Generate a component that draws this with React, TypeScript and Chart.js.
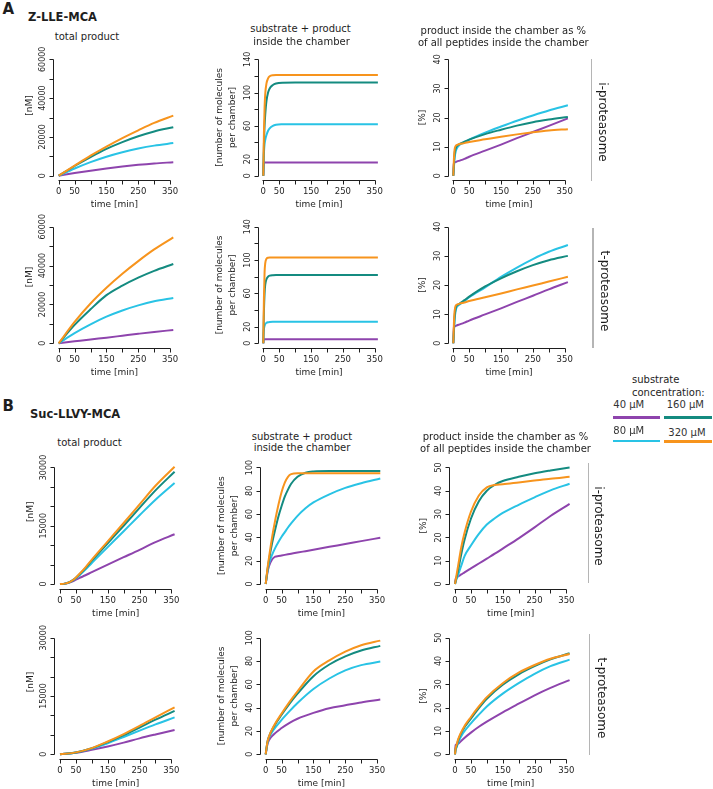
import React, { useEffect, useRef } from "react";
import { Chart, registerables } from "chart.js";

Chart.register(...registerables);

// ---------- series meta ----------
const SERIES_LABELS = ["40 μM", "80 μM", "160 μM", "320 μM"];
const SERIES_COLORS = ["#8e44ad", "#29c3e5", "#148b80", "#f7941d"];

// ---------- axis ticks ----------
const X_TICKS = [0, 50, 100, 150, 200, 250, 300, 350];
const X_TICK_LABELS = [0, 50, 150, 250, 350];

const Y_TICKS_TOTAL_A = [0, 10000, 20000, 30000, 40000, 50000, 60000];
const Y_LABELS_TOTAL_A = [0, 20000, 40000, 60000];
const Y_TICKS_CHAMBER_A = [0, 20, 40, 60, 80, 100, 120, 140];
const Y_LABELS_CHAMBER_A = [0, 20, 60, 100, 140];
const Y_TICKS_PCT_A = [0, 10, 20, 30, 40];
const Y_TICKS_TOTAL_B = [0, 5000, 10000, 15000, 20000, 25000, 30000];
const Y_LABELS_TOTAL_B = [0, 15000, 30000];
const Y_TICKS_CHAMBER_B = [0, 20, 40, 60, 80, 100];
const Y_TICKS_PCT_B = [0, 10, 20, 30, 40, 50];

// ---------- A: Z-LLE-MCA, i-proteasome ----------
const A_I_TOTAL_T = [0, 50, 100, 150, 200, 250, 300, 360];
const A_I_TOTAL_40 = [0, 1350, 2600, 3750, 4750, 5600, 6300, 6950];
const A_I_TOTAL_80 = [0, 3700, 7000, 9800, 12100, 14000, 15500, 16800];
const A_I_TOTAL_160 = [0, 5000, 9600, 13800, 17300, 20300, 22800, 25000];
const A_I_TOTAL_320 = [0, 5200, 10300, 15000, 19400, 23400, 27200, 31000];

const A_I_CHAMBER_T = [0, 1, 2, 4, 6, 10, 15, 20, 30, 40, 60, 100, 200, 360];
const A_I_CHAMBER_40 = [0, 12, 15.5, 16, 16, 16, 16, 16, 16, 16, 16, 16, 16, 16];
const A_I_CHAMBER_80 = [0, 18, 28, 38, 43, 49, 54, 57, 60, 61.2, 61.8, 62, 62, 62];
const A_I_CHAMBER_160 = [0, 20, 38, 60, 73, 90, 100, 105, 109, 110.8, 111.8, 112, 112, 112];
const A_I_CHAMBER_320 = [0, 28, 52, 82, 98, 111, 117, 119.5, 120.8, 121, 121, 121, 121, 121];

const A_I_PCT_T = [0, 2, 4, 8, 12, 20, 35, 50, 100, 150, 200, 250, 300, 360];
const A_I_PCT_40 = [0, 4.5, 4.6, 4.7, 4.9, 5.2, 5.8, 6.5, 8.6, 10.7, 12.9, 15.0, 17.1, 19.7];
const A_I_PCT_80 = [0, 3, 6, 8.5, 9.6, 10.6, 11.5, 12.4, 14.8, 16.9, 18.9, 20.7, 22.4, 24.2];
const A_I_PCT_160 = [0, 4, 7.5, 9.5, 10.3, 10.9, 11.7, 12.4, 14.3, 15.8, 17.2, 18.4, 19.3, 20.2];
const A_I_PCT_320 = [0, 6, 9, 10.3, 10.6, 10.9, 11.2, 11.6, 12.5, 13.4, 14.2, 14.9, 15.5, 16.0];

// ---------- A: Z-LLE-MCA, t-proteasome ----------
const A_T_TOTAL_T = [0, 50, 100, 150, 200, 250, 300, 360];
const A_T_TOTAL_40 = [0, 1000, 2000, 2900, 3900, 4900, 5850, 6850];
const A_T_TOTAL_80 = [0, 5200, 9700, 13700, 16900, 19500, 21600, 23300];
const A_T_TOTAL_160 = [0, 9500, 17500, 24800, 29700, 33800, 37300, 40800];
const A_T_TOTAL_320 = [0, 11000, 20500, 28600, 35800, 42300, 48300, 54500];

const A_T_CHAMBER_T = [0, 1, 2, 4, 6, 10, 15, 20, 30, 40, 60, 100, 200, 360];
const A_T_CHAMBER_40 = [0, 4, 5, 5, 5, 5, 5, 5, 5, 5, 5, 5, 5, 5];
const A_T_CHAMBER_80 = [0, 12, 17, 21, 23, 24.5, 25.3, 25.7, 26, 26, 26, 26, 26, 26];
const A_T_CHAMBER_160 = [0, 20, 38, 60, 70, 77, 80, 81.2, 81.8, 82, 82, 82, 82, 82];
const A_T_CHAMBER_320 = [0, 30, 55, 85, 96, 101.5, 102.8, 103, 103, 103, 103, 103, 103, 103];

const A_T_PCT_T = [0, 2, 4, 8, 12, 20, 35, 50, 100, 150, 200, 250, 300, 360];
const A_T_PCT_40 = [0, 5.6, 5.8, 6.0, 6.2, 6.5, 7.1, 7.8, 9.9, 12.0, 14.2, 16.3, 18.5, 21.0];
const A_T_PCT_80 = [0, 4, 8, 11.5, 12.6, 13.3, 14.5, 15.8, 19.2, 22.8, 26.0, 28.9, 31.4, 33.7];
const A_T_PCT_160 = [0, 4.5, 9, 12.3, 13, 13.6, 14.8, 16.0, 19.5, 22.3, 24.7, 26.8, 28.5, 30.0];
const A_T_PCT_320 = [0, 7, 11, 13, 13.3, 13.6, 14, 14.5, 15.8, 17.1, 18.5, 19.8, 21.2, 22.8];

// ---------- B: Suc-LLVY-MCA, i-proteasome ----------
const B_I_TOTAL_T = [0, 15, 30, 45, 60, 80, 100, 150, 200, 250, 300, 360];
const B_I_TOTAL_40 = [0, 85, 400, 900, 1500, 2250, 3050, 5000, 6900, 8800, 10800, 12800];
const B_I_TOTAL_80 = [0, 90, 450, 1150, 2150, 3700, 5400, 9500, 13600, 17700, 21700, 26000];
const B_I_TOTAL_160 = [0, 95, 480, 1250, 2400, 4100, 6000, 10500, 15000, 19600, 24100, 28900];
const B_I_TOTAL_320 = [0, 100, 500, 1300, 2500, 4300, 6300, 11000, 15700, 20500, 25300, 30200];

const B_I_CHAMBER_T = [0, 5, 10, 20, 30, 40, 50, 60, 70, 80, 100, 125, 150, 200, 250, 300, 360];
const B_I_CHAMBER_40 = [0, 9, 15, 21, 23.5, 24, 24.5, 25, 25.5, 26, 27, 28.2, 29.4, 31.9, 34.3, 36.8, 39.7];
const B_I_CHAMBER_80 = [0, 10, 17, 25, 31, 36, 40.5, 44.5, 48.5, 52, 58.5, 65, 70, 77, 82.5, 86.5, 90.5];
const B_I_CHAMBER_160 = [0, 11, 20, 35, 47, 58, 67, 75, 81, 86, 92, 95.5, 96.6, 97, 97, 97, 97];
const B_I_CHAMBER_320 = [0, 12, 22, 40, 55, 68, 79, 87, 92, 94.3, 95, 95, 95, 95, 95, 95, 95];

const B_I_PCT_T = [0, 2, 5, 10, 20, 30, 50, 75, 100, 125, 150, 200, 250, 300, 360];
const B_I_PCT_40 = [0, 2.2, 2.8, 3.3, 4.1, 5.0, 6.7, 8.8, 10.9, 13.0, 15.2, 19.6, 24.3, 29.2, 34.4];
const B_I_PCT_80 = [0, 1, 2.2, 4, 8, 12, 16.5, 21.5, 25.5, 28.2, 30.5, 34, 37.2, 40.2, 43];
const B_I_PCT_160 = [0, 1.2, 3, 6, 13, 19, 28, 35.5, 40, 42.6, 44.2, 46, 47.5, 48.7, 50];
const B_I_PCT_320 = [0, 1.5, 4, 8, 16, 22, 31, 38, 41.5, 42.5, 42.8, 43.6, 44.4, 45.2, 46];

// ---------- B: Suc-LLVY-MCA, t-proteasome ----------
const B_T_TOTAL_T = [0, 50, 100, 150, 200, 250, 300, 360];
const B_T_TOTAL_40 = [0, 400, 1150, 2000, 3000, 4100, 5100, 6250];
const B_T_TOTAL_80 = [0, 450, 1450, 2850, 4450, 6100, 7700, 9500];
const B_T_TOTAL_160 = [0, 480, 1550, 3150, 4950, 6900, 8900, 11150];
const B_T_TOTAL_320 = [0, 500, 1600, 3300, 5200, 7300, 9500, 12100];

const B_T_CHAMBER_T = [0, 5, 10, 25, 50, 75, 100, 150, 200, 250, 300, 360];
const B_T_CHAMBER_40 = [0, 8, 12, 17, 22.5, 27, 30.5, 35.5, 39.5, 42, 44.5, 47];
const B_T_CHAMBER_80 = [0, 9, 14, 21, 29.5, 37, 44, 56, 65, 72, 76.5, 79.5];
const B_T_CHAMBER_160 = [0, 10, 15, 23.5, 34, 43.5, 52, 67, 77, 84, 89, 93];
const B_T_CHAMBER_320 = [0, 10, 15, 24, 35, 45, 54, 71, 80.5, 88, 93.5, 97.5];

const B_T_PCT_T = [0, 2, 5, 10, 25, 50, 75, 100, 150, 200, 250, 300, 360];
const B_T_PCT_40 = [0, 4, 4.2, 4.5, 6.5, 9.3, 11.8, 14, 18, 21.7, 25.3, 28.5, 31.8];
const B_T_PCT_80 = [0, 2, 3, 5, 9, 13.3, 17, 20.5, 26, 30.5, 34.5, 37.8, 40.6];
const B_T_PCT_160 = [0, 2.2, 3.5, 6, 10.5, 15.3, 19.8, 23.8, 29.8, 34.3, 37.8, 40.7, 43.3];
const B_T_PCT_320 = [0, 2.5, 4, 6.5, 11, 16, 20.5, 24.5, 30.5, 35, 38.3, 41, 43];

// ---------- layout ----------
const FONT = '"DejaVu Sans", Verdana, sans-serif';
const INK = "#1e1e1e";

interface PanelCfg {
  t: number[];
  series: number[][];
  yMax: number;
  yTicks: number[];
  yLabels: number[];
  x0: number;
  x350: number;
  yTop: number;
  yZero: number;
  ylab: string[];
  ylabOffsets: number[];
  ylabShift: number;
}

const COLS_A = [58.7, 263.3, 453.3];
const COLS_B = [60, 265.7, 455];
const XW = 111.4;
const ROWS = [
  [59.3, 175.7],
  [226.7, 343.3],
  [467.5, 584],
  [637.7, 754.3],
];

function mk(
  row: number,
  colX: number,
  t: number[],
  series: number[][],
  kind: "total" | "chamber" | "pct",
  yMax: number,
  yTicks: number[],
  yLabels: number[],
  ylabShift = 0
): PanelCfg {
  const ylab =
    kind === "total" ? ["[nM]"] : kind === "chamber" ? ["[number of molecules", "per chamber]"] : ["[%]"];
  const ylabOffsets = kind === "total" ? [-24] : kind === "chamber" ? [-38.5, -26] : [-25.5];
  return {
    t,
    series,
    yMax,
    yTicks,
    yLabels,
    x0: colX,
    x350: colX + XW,
    yTop: ROWS[row][0],
    yZero: ROWS[row][1],
    ylab,
    ylabOffsets,
    ylabShift,
  };
}

const PANELS: PanelCfg[] = [
  mk(0, COLS_A[0], A_I_TOTAL_T, [A_I_TOTAL_40, A_I_TOTAL_80, A_I_TOTAL_160, A_I_TOTAL_320], "total", 60000, Y_TICKS_TOTAL_A, Y_LABELS_TOTAL_A, -12),
  mk(0, COLS_A[1], A_I_CHAMBER_T, [A_I_CHAMBER_40, A_I_CHAMBER_80, A_I_CHAMBER_160, A_I_CHAMBER_320], "chamber", 140, Y_TICKS_CHAMBER_A, Y_LABELS_CHAMBER_A),
  mk(0, COLS_A[2], A_I_PCT_T, [A_I_PCT_40, A_I_PCT_80, A_I_PCT_160, A_I_PCT_320], "pct", 40, Y_TICKS_PCT_A, Y_TICKS_PCT_A),
  mk(1, COLS_A[0], A_T_TOTAL_T, [A_T_TOTAL_40, A_T_TOTAL_80, A_T_TOTAL_160, A_T_TOTAL_320], "total", 60000, Y_TICKS_TOTAL_A, Y_LABELS_TOTAL_A, -8),
  mk(1, COLS_A[1], A_T_CHAMBER_T, [A_T_CHAMBER_40, A_T_CHAMBER_80, A_T_CHAMBER_160, A_T_CHAMBER_320], "chamber", 140, Y_TICKS_CHAMBER_A, Y_LABELS_CHAMBER_A),
  mk(1, COLS_A[2], A_T_PCT_T, [A_T_PCT_40, A_T_PCT_80, A_T_PCT_160, A_T_PCT_320], "pct", 40, Y_TICKS_PCT_A, Y_TICKS_PCT_A),
  mk(2, COLS_B[0], B_I_TOTAL_T, [B_I_TOTAL_40, B_I_TOTAL_80, B_I_TOTAL_160, B_I_TOTAL_320], "total", 30000, Y_TICKS_TOTAL_B, Y_LABELS_TOTAL_B, -14),
  mk(2, COLS_B[1], B_I_CHAMBER_T, [B_I_CHAMBER_40, B_I_CHAMBER_80, B_I_CHAMBER_160, B_I_CHAMBER_320], "chamber", 100, Y_TICKS_CHAMBER_B, Y_TICKS_CHAMBER_B),
  mk(2, COLS_B[2], B_I_PCT_T, [B_I_PCT_40, B_I_PCT_80, B_I_PCT_160, B_I_PCT_320], "pct", 50, Y_TICKS_PCT_B, Y_TICKS_PCT_B),
  mk(3, COLS_B[0], B_T_TOTAL_T, [B_T_TOTAL_40, B_T_TOTAL_80, B_T_TOTAL_160, B_T_TOTAL_320], "total", 30000, Y_TICKS_TOTAL_B, Y_LABELS_TOTAL_B, -14),
  mk(3, COLS_B[1], B_T_CHAMBER_T, [B_T_CHAMBER_40, B_T_CHAMBER_80, B_T_CHAMBER_160, B_T_CHAMBER_320], "chamber", 100, Y_TICKS_CHAMBER_B, Y_TICKS_CHAMBER_B),
  mk(3, COLS_B[2], B_T_PCT_T, [B_T_PCT_40, B_T_PCT_80, B_T_PCT_160, B_T_PCT_320], "pct", 50, Y_TICKS_PCT_B, Y_TICKS_PCT_B),
];

function Panel({ cfg }: { cfg: PanelCfg }) {
  const ref = useRef<HTMLCanvasElement | null>(null);

  const s = (cfg.x350 - cfg.x0) / 350;
  const left = cfg.x0 - 14.4 * s;
  const right = cfg.x0 + 374.4 * s;
  const h = cfg.yZero - cfg.yTop;
  const top = cfg.yTop - 0.04 * h;
  const bottom = cfg.yZero + 0.04 * h;
  const cl = Math.floor(left - 62);
  const ct = Math.floor(top - 8);
  const cw = Math.ceil(right + 8) - cl;
  const ch = Math.ceil(bottom + 34) - ct;
  const pad = { left: left - cl, top: top - ct, right: cl + cw - right, bottom: ct + ch - bottom };

  useEffect(() => {
    if (!ref.current) return;
    const axesPlugin = {
      id: "rAxes",
      afterDraw(chart: any) {
        const ctx = chart.ctx as CanvasRenderingContext2D;
        const xs = chart.scales.x;
        const ys = chart.scales.y;
        const ca = chart.chartArea;
        ctx.save();
        ctx.strokeStyle = INK;
        ctx.fillStyle = INK;
        ctx.lineWidth = 1;
        // y axis
        const ax = Math.round(ca.left) - 0.5;
        const yb = ys.getPixelForValue(0);
        const yt = ys.getPixelForValue(cfg.yMax);
        ctx.beginPath();
        ctx.moveTo(ax, Math.round(yb) + 0.5);
        ctx.lineTo(ax, Math.round(yt) + 0.5);
        cfg.yTicks.forEach((v) => {
          const py = Math.round(ys.getPixelForValue(v)) + 0.5;
          ctx.moveTo(ax, py);
          ctx.lineTo(ax - 4, py);
        });
        // x axis
        const ay = Math.round(ca.bottom) + 0.5;
        const px0 = xs.getPixelForValue(0);
        const px350 = xs.getPixelForValue(350);
        ctx.moveTo(Math.round(px0) - 0.5, ay);
        ctx.lineTo(Math.round(px350) + 0.5, ay);
        X_TICKS.forEach((v) => {
          const px = Math.round(xs.getPixelForValue(v)) + 0.5;
          ctx.moveTo(px, ay);
          ctx.lineTo(px, ay + 4);
        });
        ctx.stroke();

        // x tick labels
        ctx.font = `8.5px ${FONT}`;
        ctx.textAlign = "center";
        ctx.textBaseline = "middle";
        X_TICK_LABELS.forEach((v) => {
          ctx.fillText(String(v), xs.getPixelForValue(v), ay + 11);
        });
        // x title
        ctx.font = `9px ${FONT}`;
        ctx.fillText("time [min]", (px0 + px350) / 2, ay + 24);

        // y tick labels (rotated)
        ctx.font = `8px ${FONT}`;
        cfg.yLabels.forEach((v) => {
          ctx.save();
          ctx.translate(ax - 11, ys.getPixelForValue(v));
          ctx.rotate(-Math.PI / 2);
          ctx.fillText(String(v), 0, 0);
          ctx.restore();
        });
        // y title
        ctx.font = `9px ${FONT}`;
        const cy = (yb + yt) / 2 + cfg.ylabShift;
        cfg.ylab.forEach((line, i) => {
          ctx.save();
          ctx.translate(ax + cfg.ylabOffsets[i], cy);
          ctx.rotate(-Math.PI / 2);
          ctx.fillText(line, 0, 0);
          ctx.restore();
        });
        ctx.restore();
      },
    };

    const chart = new Chart(ref.current, {
      type: "line",
      data: {
        datasets: cfg.series.map((vals, i) => ({
          label: SERIES_LABELS[i],
          data: cfg.t.map((tt, j) => ({ x: tt, y: vals[j] })),
          borderColor: SERIES_COLORS[i],
          backgroundColor: SERIES_COLORS[i],
          borderWidth: 2,
          pointRadius: 0,
          fill: false,
          cubicInterpolationMode: "monotone" as const,
          order: 3 - i,
        })),
      },
      options: {
        responsive: false,
        animation: false,
        events: [],
        layout: { padding: pad },
        scales: {
          x: { type: "linear", min: -14.4, max: 374.4, display: false },
          y: { type: "linear", min: -0.04 * cfg.yMax, max: 1.04 * cfg.yMax, display: false },
        },
        plugins: { legend: { display: false }, tooltip: { enabled: false } },
      },
      plugins: [axesPlugin],
    } as any);
    return () => chart.destroy();
  }, []);

  return (
    <canvas
      ref={ref}
      width={cw}
      height={ch}
      style={{ position: "absolute", left: cl, top: ct, width: cw, height: ch }}
    />
  );
}

function T({
  x,
  y,
  size,
  bold = false,
  align = "center",
  rot = 0,
  color = INK,
  children,
}: {
  x: number;
  y: number;
  size: number;
  bold?: boolean;
  align?: "center" | "left";
  rot?: number;
  color?: string;
  children: React.ReactNode;
}) {
  const tx = align === "center" ? "-50%" : "0";
  return (
    <div
      style={{
        position: "absolute",
        left: x,
        top: y,
        fontSize: size,
        fontWeight: bold ? 700 : 400,
        lineHeight: 1,
        whiteSpace: "nowrap",
        color,
        transform: `translate(${tx}, -50%) rotate(${rot}deg)`,
        transformOrigin: align === "center" ? "50% 50%" : "0 50%",
      }}
    >
      {children}
    </div>
  );
}

function VLine({ x, y1, y2 }: { x: number; y1: number; y2: number }) {
  return (
    <div
      style={{ position: "absolute", left: x - 0.75, top: y1, width: 1.5, height: y2 - y1, background: "#b5b5b5" }}
    />
  );
}

function HLine({ x1, x2, y, color }: { x1: number; x2: number; y: number; color: string }) {
  return <div style={{ position: "absolute", left: x1, top: y - 1.25, width: x2 - x1, height: 2.5, background: color }} />;
}

export default function App() {
  return (
    <div
      style={{
        position: "absolute",
        left: 0,
        top: 0,
        width: 713,
        height: 789,
        background: "#fff",
        fontFamily: FONT,
        overflow: "hidden",
      }}
    >
      {PANELS.map((p, i) => (
        <Panel key={i} cfg={p} />
      ))}

      {/* Section A */}
      <T x={8.3} y={8.7} size={15} bold>A</T>
      <T x={28} y={17.5} size={11.5} bold align="left">Z-LLE-MCA</T>
      <T x={87} y={37.3} size={10}>total product</T>
      <T x={300.5} y={29} size={10}>substrate + product</T>
      <T x={301.5} y={41.5} size={10}>inside the chamber</T>
      <T x={503.3} y={30.7} size={10}>product inside the chamber as %</T>
      <T x={503.3} y={42.7} size={10}>of all peptides inside the chamber</T>

      {/* Section B */}
      <T x={8.3} y={405.8} size={15} bold>B</T>
      <T x={30} y={415} size={11.5} bold align="left">Suc-LLVY-MCA</T>
      <T x={89.5} y={443} size={10}>total product</T>
      <T x={302} y={436.7} size={10}>substrate + product</T>
      <T x={302} y={448.3} size={10}>inside the chamber</T>
      <T x={505.5} y={437.3} size={10}>product inside the chamber as %</T>
      <T x={505.5} y={449.3} size={10}>of all peptides inside the chamber</T>

      {/* row separators and labels */}
      <VLine x={591.7} y1={59} y2={181} />
      <T x={603.3} y={121.7} size={12} rot={90}>i-proteasome</T>
      <VLine x={593} y1={228} y2={348} />
      <T x={605} y={290.8} size={12} rot={90}>t-proteasome</T>
      <VLine x={588.3} y1={463} y2={583} />
      <T x={599.3} y={525.8} size={12} rot={90}>i-proteasome</T>
      <VLine x={589.3} y1={634} y2={755} />
      <T x={601.7} y={697.5} size={12} rot={90}>t-proteasome</T>

      {/* legend */}
      <T x={632} y={380} size={10} align="left">substrate</T>
      <T x={632} y={392.5} size={10} align="left">concentration:</T>
      <T x={613.3} y={405} size={10} align="left" color="#333">{SERIES_LABELS[0]}</T>
      <T x={666.7} y={405} size={10} align="left" color="#333">{SERIES_LABELS[2]}</T>
      <HLine x1={612.7} x2={660} y={417.7} color={SERIES_COLORS[0]} />
      <HLine x1={664} x2={711.7} y={417.7} color={SERIES_COLORS[2]} />
      <T x={613.3} y={431} size={10} align="left" color="#333">{SERIES_LABELS[1]}</T>
      <T x={668.3} y={433.3} size={10} align="left" color="#333">{SERIES_LABELS[3]}</T>
      <HLine x1={612.7} x2={660} y={441} color={SERIES_COLORS[1]} />
      <HLine x1={664} x2={711.7} y={441.7} color={SERIES_COLORS[3]} />
    </div>
  );
}
